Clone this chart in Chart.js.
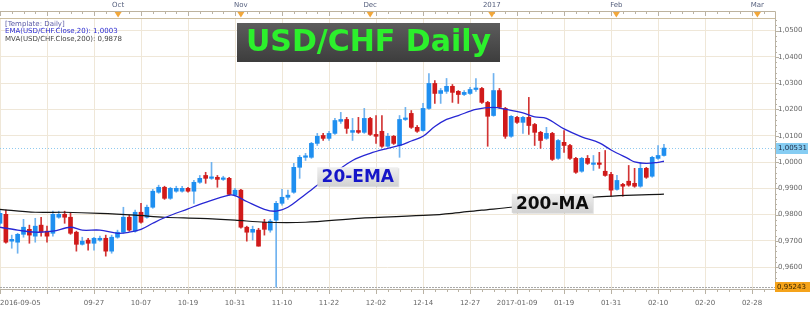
<!DOCTYPE html>
<html>
<head>
<meta charset="utf-8">
<script src="https://cdn.jsdelivr.net/npm/chart.js@4.4.0/dist/chart.umd.min.js"></script>
<style>
html, body { margin: 0; padding: 0; background: #ffffff; }
#usdchf_chart { display: block; }
</style>
</head>
<body>
<canvas id="usdchf_chart" width="810" height="310"></canvas>
<script>
// daily candles, index 0 = 2016-09-05
const candle_open = [
    0.9767, 0.9801, 0.9699, 0.9695, 0.9725, 0.9744, 0.9718, 0.9760, 0.9737, 0.9729,
    0.9790, 0.9801, 0.9790, 0.9733, 0.9687, 0.9703, 0.9691, 0.9703, 0.9710, 0.9661,
    0.9714, 0.9733, 0.9790, 0.9737, 0.9809, 0.9790, 0.9828, 0.9885, 0.9904, 0.9862,
    0.9889, 0.9889, 0.9900, 0.9889, 0.9923, 0.9949, 0.9938, 0.9942, 0.9934, 0.9938,
    0.9874, 0.9893, 0.9752, 0.9733, 0.9741, 0.9771, 0.9741, 0.9779, 0.9843, 0.9866,
    0.9885, 0.9980, 1.0018, 1.0018, 1.0071, 1.0101, 1.0090, 1.0109, 1.0155, 1.0162,
    1.0113, 1.0120, 1.0113, 1.0166, 1.0105, 1.0117, 1.0060, 1.0098, 1.0063, 1.0162,
    1.0185, 1.0132, 1.0120, 1.0204, 1.0299, 1.0261, 1.0269, 1.0288, 1.0269, 1.0257,
    1.0261, 1.0276, 1.0280, 1.0227, 1.0177, 1.0272, 1.0204, 1.0098, 1.0170, 1.0151,
    1.0170, 1.0143, 1.0113, 1.0090, 1.0109, 1.0014, 1.0075, 1.0063, 1.0014, 0.9965,
    1.0014, 0.9991, 0.9995, 0.9965, 0.9953, 0.9896, 0.9915, 0.9927, 0.9919, 0.9908,
    0.9976, 0.9946, 1.0014, 1.0025,
];
const candle_high = [
    0.9817, 0.9817, 0.9722, 0.9729, 0.9782, 0.9760, 0.9786, 0.9790, 0.9756, 0.9813,
    0.9813, 0.9813, 0.9805, 0.9737, 0.9714, 0.9710, 0.9714, 0.9718, 0.9722, 0.9722,
    0.9741, 0.9828, 0.9798, 0.9817, 0.9843, 0.9836, 0.9896, 0.9912, 0.9908, 0.9904,
    0.9908, 0.9908, 0.9904, 0.9930, 0.9949, 0.9961, 0.9999, 0.9949, 0.9946, 0.9942,
    0.9900, 0.9896, 0.9756, 0.9756, 0.9748, 0.9782, 0.9782, 0.9851, 0.9896, 0.9893,
    0.9995, 1.0025, 1.0033, 1.0075, 1.0109, 1.0109, 1.0117, 1.0166, 1.0189, 1.0170,
    1.0166, 1.0170, 1.0204, 1.0170, 1.0177, 1.0177, 1.0109, 1.0101, 1.0177, 1.0208,
    1.0196, 1.0139, 1.0223, 1.0337, 1.0310, 1.0280, 1.0318, 1.0295, 1.0272, 1.0272,
    1.0284, 1.0318, 1.0284, 1.0231, 1.0337, 1.0280, 1.0208, 1.0177, 1.0174, 1.0174,
    1.0246, 1.0147, 1.0117, 1.0132, 1.0113, 1.0086, 1.0120, 1.0067, 1.0018, 1.0018,
    1.0025, 1.0025, 1.0037, 1.0044, 0.9961, 0.9949, 0.9919, 0.9987, 0.9976, 0.9999,
    0.9980, 1.0022, 1.0063, 1.0067,
];
const candle_low = [
    0.9760, 0.9691, 0.9672, 0.9653, 0.9714, 0.9691, 0.9695, 0.9718, 0.9695, 0.9718,
    0.9786, 0.9767, 0.9725, 0.9661, 0.9684, 0.9665, 0.9665, 0.9699, 0.9642, 0.9653,
    0.9710, 0.9729, 0.9737, 0.9733, 0.9767, 0.9786, 0.9824, 0.9881, 0.9858, 0.9858,
    0.9885, 0.9885, 0.9885, 0.9843, 0.9919, 0.9919, 0.9934, 0.9904, 0.9930, 0.9874,
    0.9870, 0.9748, 0.9699, 0.9703, 0.9680, 0.9722, 0.9733, 0.95243, 0.9836, 0.9858,
    0.9881, 0.9938, 1.0006, 1.0014, 1.0063, 1.0082, 1.0082, 1.0105, 1.0147, 1.0109,
    1.0082, 1.0109, 1.0109, 1.0101, 1.0071, 1.0056, 1.0056, 1.0067, 1.0018, 1.0158,
    1.0128, 1.0113, 1.0117, 1.0200, 1.0223, 1.0223, 1.0261, 1.0227, 1.0223, 1.0253,
    1.0257, 1.0269, 1.0223, 1.0060, 1.0174, 1.0204, 1.0090, 1.0094, 1.0147, 1.0109,
    1.0105, 1.0063, 1.0052, 1.0086, 1.0006, 1.0010, 1.0037, 1.0010, 0.9957, 0.9961,
    0.9991, 0.9968, 0.9976, 0.9946, 0.9870, 0.9893, 0.9870, 0.9908, 0.9904, 0.9904,
    0.9938, 0.9942, 1.0010, 1.0022,
];
const candle_close = [
    0.9805, 0.9695, 0.9706, 0.9725, 0.9752, 0.9722, 0.9756, 0.9733, 0.9718, 0.9801,
    0.9801, 0.9790, 0.9729, 0.9687, 0.9699, 0.9691, 0.9710, 0.9710, 0.9661, 0.9714,
    0.9733, 0.9790, 0.9741, 0.9809, 0.9771, 0.9828, 0.9889, 0.9904, 0.9862, 0.9900,
    0.9900, 0.9900, 0.9889, 0.9923, 0.9938, 0.9938, 0.9942, 0.9934, 0.9938, 0.9877,
    0.9893, 0.9752, 0.9733, 0.9744, 0.9680, 0.9744, 0.9775, 0.9843, 0.9866, 0.9874,
    0.9980, 1.0018, 1.0022, 1.0071, 1.0098, 1.0090, 1.0109, 1.0158, 1.0162, 1.0128,
    1.0120, 1.0113, 1.0166, 1.0105, 1.0098, 1.0060, 1.0098, 1.0071, 1.0162, 1.0166,
    1.0132, 1.0117, 1.0204, 1.0299, 1.0261, 1.0272, 1.0288, 1.0265, 1.0257, 1.0265,
    1.0276, 1.0280, 1.0227, 1.0174, 1.0272, 1.0208, 1.0098, 1.0174, 1.0151, 1.0170,
    1.0139, 1.0113, 1.0082, 1.0109, 1.0010, 1.0082, 1.0063, 1.0014, 0.9961, 1.0014,
    0.9995, 0.9995, 0.9991, 0.9949, 0.9893, 0.9930, 0.9908, 0.9912, 0.9908, 0.9976,
    0.9942, 1.0018, 1.0025, 1.00531,
];

// 20-EMA at these candle indexes
const ema_index = [0, 3, 6, 9, 12, 14, 17, 20, 22, 24, 26, 28, 32, 35, 39, 40, 42, 45, 47, 49, 51, 54, 57, 60, 63,
    66, 68, 70, 72, 74, 76, 78, 81, 84, 86, 89, 91, 93, 96, 99, 102, 104, 107, 108, 110, 112, 113];
const ema_value = [0.9752, 0.9741, 0.9733, 0.9737, 0.9752, 0.9741, 0.9741, 0.9729, 0.9733, 0.9744, 0.9767, 0.9788,
    0.9822, 0.9847, 0.9874, 0.9872, 0.9850, 0.9820, 0.9813, 0.9828, 0.9860, 0.9912, 0.9960, 1.0006, 1.0033,
    1.0052, 1.0063, 1.0080, 1.0098, 1.0135, 1.0162, 1.0177, 1.0200, 1.0208, 1.0201, 1.0187, 1.0172, 1.0166,
    1.0126, 1.0096, 1.0073, 1.0046, 1.0012, 1.0001, 0.9995, 0.9999, 1.0003];

// 200-MA
const ma_index = [0, 6, 11, 17, 23, 28, 34, 40, 45, 52, 61, 73, 77, 82, 87, 101, 113];
const ma_value = [0.9820, 0.9809, 0.9809, 0.9805, 0.9798, 0.9790, 0.9786, 0.9779, 0.9771, 0.9771, 0.9786,
    0.9798, 0.9805, 0.9817, 0.9828, 0.9866, 0.9878];

const x_tick_index = [0, 8, 16, 24, 32, 40, 48, 56, 64, 72, 80, 88, 96, 104, 112, 120, 128];
const x_tick_labels = ['2016-09-05', '', '09-27', '10-07', '10-19', '10-31', '11-10', '11-22', '12-02',
    '12-14', '12-27', '2017-01-09', '01-19', '01-31', '02-10', '02-20', '02-28'];
const month_index = [20.1, 41, 63, 83.7, 104.9, 128.9];
const month_labels = ['Oct', 'Nov', 'Dec', '2017', 'Feb', 'Mar'];
const y_tick_values = [0.96, 0.97, 0.98, 0.99, 1.00, 1.01, 1.02, 1.03, 1.04, 1.05];

const legend_lines = ['[Template: Daily]', 'EMA(USD/CHF.Close,20): 1,0003', 'MVA(USD/CHF.Close,200): 0,9878'];
const note_texts = ['20-EMA', '200-MA'];
const note_index = [54, 87.1];
const note_price = [0.9944, 0.9843];

const chf_palette = {
    up_body: '#1f8ff0',
    down_body: '#d01a1a',
    up_wick: '#6fb2ef',
    down_wick: '#d23434',
    ema: '#2727d4',
    ma: '#161616',
    grid: '#efe7d8',
    axis: '#cbbd9f',
    text: '#666666',
    month: '#56607e',
    marker: '#f2a73a',
};

function chf_is_up(idx) {
    return candle_close[idx] >= candle_open[idx];
}

function chf_fmt(value, digits) {
    return value.toFixed(digits).replace('.', ',');
}

function chf_draw_box_text(ctx, text, left, mid_y, width, height, color) {
    const grad = ctx.createLinearGradient(0, mid_y - height / 2, 0, mid_y + height / 2);
    grad.addColorStop(0, '#efefef');
    grad.addColorStop(1, '#d2d2d2');
    ctx.fillStyle = 'rgba(0, 0, 0, 0.12)';
    ctx.fillRect(left + 1, mid_y - height / 2 + 1, width, height);
    ctx.fillStyle = grad;
    ctx.fillRect(left, mid_y - height / 2, width, height);
    ctx.fillStyle = color;
    ctx.font = 'bold 17px "DejaVu Sans"';
    ctx.textAlign = 'center';
    ctx.textBaseline = 'middle';
    ctx.fillText(text, left + width / 2, mid_y + 1);
}

const chf_overlay = {
    id: 'chf_overlay',
    beforeDatasetsDraw(chart) {
        const ctx = chart.ctx;
        const area = chart.chartArea;
        const ys = chart.scales.y;
        const last_y = Math.round(ys.getPixelForValue(candle_close[candle_close.length - 1])) + 0.5;
        const low_y = Math.round(ys.getPixelForValue(Math.min.apply(null, candle_low))) + 0.5;

        ctx.save();
        ctx.lineWidth = 1;
        ctx.setLineDash([1, 2]);
        ctx.strokeStyle = '#8fcaf0';
        ctx.beginPath();
        ctx.moveTo(area.left, last_y);
        ctx.lineTo(area.right, last_y);
        ctx.stroke();
        ctx.setLineDash([2, 1]);
        ctx.strokeStyle = '#a8a8a8';
        ctx.beginPath();
        ctx.moveTo(area.left, low_y);
        ctx.lineTo(area.right, low_y);
        ctx.stroke();
        ctx.restore();
    },
    afterDraw(chart) {
        const ctx = chart.ctx;
        const area = chart.chartArea;
        const xs = chart.scales.x;
        const ys = chart.scales.y;

        ctx.save();
        ctx.lineWidth = 1;

        // top date band
        ctx.strokeStyle = '#bdb39f';
        ctx.beginPath();
        ctx.moveTo(area.left, 11.5);
        ctx.lineTo(area.right + 0.5, 11.5);
        ctx.lineTo(area.right + 0.5, area.top);
        ctx.stroke();
        ctx.strokeStyle = chf_palette.axis;
        ctx.beginPath();
        ctx.moveTo(area.left, area.top + 0.5);
        ctx.lineTo(area.right, area.top + 0.5);
        ctx.stroke();

        ctx.strokeStyle = '#b9b2a4';
        ctx.beginPath();
        for (let idx = 0; idx <= 131; idx += 2) {
            const px = Math.round(xs.getPixelForValue(idx)) + 0.5;
            const len = idx % 8 === 0 ? 4 : 2;
            ctx.moveTo(px, 12);
            ctx.lineTo(px, 12 + len);
            ctx.moveTo(px, area.bottom);
            ctx.lineTo(px, area.bottom + len + 1);
        }
        for (let val = 0.952; val < 1.0548; val += 0.002) {
            const py = Math.round(ys.getPixelForValue(val)) + 0.5;
            const major = Math.abs(val * 100 - Math.round(val * 100)) < 0.001;
            ctx.moveTo(area.right, py);
            ctx.lineTo(area.right + (major ? 4 : 2), py);
        }
        ctx.stroke();

        ctx.font = '7px "DejaVu Sans"';
        ctx.textBaseline = 'middle';
        ctx.textAlign = 'center';
        month_index.forEach(function (idx, k) {
            const px = xs.getPixelForValue(idx);
            ctx.fillStyle = chf_palette.month;
            ctx.fillText(month_labels[k], px, 5);
            ctx.fillStyle = chf_palette.marker;
            ctx.beginPath();
            ctx.moveTo(px - 3.5, 12);
            ctx.lineTo(px + 3.5, 12);
            ctx.lineTo(px, 17.5);
            ctx.closePath();
            ctx.fill();
        });

        // bottom date labels
        ctx.fillStyle = chf_palette.text;
        x_tick_index.forEach(function (idx, k) {
            const label = x_tick_labels[k];
            if (!label) {
                return;
            }
            const px = xs.getPixelForValue(idx);
            const half = ctx.measureText(label).width / 2;
            if (px - half < 0) {
                ctx.textAlign = 'left';
                ctx.fillText(label, 0, 303);
            } else {
                ctx.textAlign = 'center';
                ctx.fillText(label, px, 303);
            }
        });

        // price boxes on the right axis
        const last_close = candle_close[candle_close.length - 1];
        const low_value = Math.min.apply(null, candle_low);
        const last_y = ys.getPixelForValue(last_close);
        const low_y = ys.getPixelForValue(low_value);
        ctx.textAlign = 'left';
        ctx.fillStyle = '#86cdf3';
        ctx.fillRect(area.right + 1, Math.round(last_y) - 5, 32, 11);
        ctx.fillStyle = '#1b2a44';
        ctx.fillText(chf_fmt(last_close, 5), area.right + 3, last_y + 0.5);
        ctx.fillStyle = '#f5a31a';
        ctx.fillRect(area.right, Math.round(low_y) - 5, 35, 10);
        ctx.fillStyle = '#3a2600';
        ctx.fillText(chf_fmt(low_value, 5), area.right + 2, low_y + 0.5);

        // indicator legend
        const legend_colors = ['#5a5aa6', '#2a2ad0', '#444444'];
        legend_lines.forEach(function (line, k) {
            ctx.fillStyle = legend_colors[k];
            ctx.fillText(line, 5, 24 + k * 7.5);
        });

        // line notes
        note_texts.forEach(function (text, k) {
            const left = xs.getPixelForValue(note_index[k]);
            const mid = ys.getPixelForValue(note_price[k]);
            chf_draw_box_text(ctx, text, left, mid, 81, 19, k === 0 ? '#1515c8' : '#0d0d0d');
        });

        // title
        const grad = ctx.createLinearGradient(0, 23, 0, 62);
        grad.addColorStop(0, '#5c5c5c');
        grad.addColorStop(1, '#3d3d3d');
        ctx.fillStyle = grad;
        ctx.fillRect(237, 23, 263, 39);
        ctx.fillStyle = '#2cf02c';
        ctx.font = 'bold 30px "DejaVu Sans"';
        ctx.textAlign = 'center';
        ctx.fillText('USD/CHF Daily', 368.5, 43.5);

        ctx.restore();
    },
};

function chf_build_chart() {
    const canvas = document.getElementById('usdchf_chart');
    const wick_points = candle_low.map(function (low, idx) {
        return { x: idx, y: [low, candle_high[idx]] };
    });
    const body_points = candle_open.map(function (open, idx) {
        return { x: idx, y: [open, candle_close[idx]] };
    });

    new Chart(canvas.getContext('2d'), {
        type: 'bar',
        data: {
            datasets: [
                {
                    type: 'line',
                    label: 'EMA 20',
                    data: ema_index.map(function (idx, k) { return { x: idx, y: ema_value[k] }; }),
                    borderColor: chf_palette.ema,
                    borderWidth: 1.3,
                    pointRadius: 0,
                    tension: 0.35,
                    order: 0,
                },
                {
                    type: 'line',
                    label: 'MA 200',
                    data: ma_index.map(function (idx, k) { return { x: idx, y: ma_value[k] }; }),
                    borderColor: chf_palette.ma,
                    borderWidth: 1.2,
                    pointRadius: 0,
                    tension: 0.3,
                    order: 0,
                },
                {
                    label: 'wick',
                    data: wick_points,
                    backgroundColor: function (c) { return chf_is_up(c.dataIndex) ? chf_palette.up_wick : chf_palette.down_wick; },
                    barThickness: 1,
                    grouped: false,
                    order: 2,
                },
                {
                    label: 'body',
                    data: body_points,
                    backgroundColor: function (c) { return chf_is_up(c.dataIndex) ? chf_palette.up_body : chf_palette.down_body; },
                    barThickness: 4,
                    minBarLength: 1.5,
                    grouped: false,
                    order: 1,
                },
            ],
        },
        options: {
            responsive: false,
            animation: false,
            devicePixelRatio: 1,
            layout: { padding: { top: 18, left: 0, right: 0, bottom: 0 } },
            plugins: { legend: { display: false }, tooltip: { enabled: false } },
            scales: {
                x: {
                    type: 'linear',
                    min: 0,
                    max: 131.9,
                    offset: false,
                    grid: { color: chf_palette.grid, drawTicks: false, offset: false },
                    border: { color: '#b9b2a4' },
                    ticks: { display: false },
                    afterBuildTicks: function (scale) {
                        scale.ticks = x_tick_index.map(function (v) { return { value: v }; });
                    },
                    afterFit: function (scale) { scale.height = 21; },
                },
                y: {
                    position: 'right',
                    min: 0.9517,
                    max: 1.0548,
                    grid: { color: chf_palette.grid, drawTicks: false },
                    border: { color: '#b9b2a4' },
                    ticks: {
                        padding: 3,
                        color: chf_palette.text,
                        font: { family: 'DejaVu Sans', size: 7 },
                        callback: function (v) { return chf_fmt(v, 4); },
                    },
                    afterBuildTicks: function (scale) {
                        scale.ticks = y_tick_values.map(function (v) { return { value: v }; });
                    },
                    afterFit: function (scale) { scale.width = 35; },
                },
            },
        },
        plugins: [chf_overlay],
    });
}

chf_build_chart();
</script>
</body>
</html>
